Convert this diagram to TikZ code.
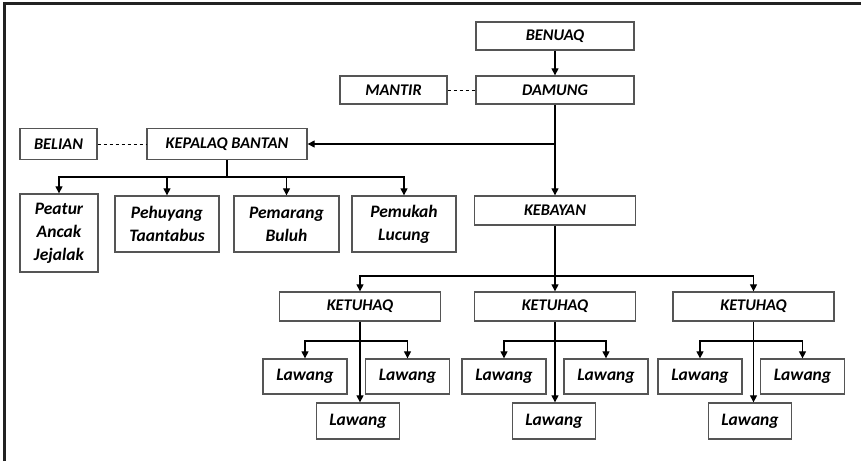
\documentclass[tikz,border=0pt]{standalone}
\usepackage{fontspec}
\setmainfont{Carlito}
\usetikzlibrary{arrows.meta}
\definecolor{boxgray}{HTML}{555555}
\definecolor{framegray}{HTML}{222222}
\begin{document}
\begin{tikzpicture}[x=1pt,y=-1pt,
  box/.style={draw=boxgray, line width=1.3pt, fill=white, inner sep=0pt,
    align=center, font=\bfseries\itshape\fontsize{16.3}{19}\selectfont},
  role/.style={box, font=\bfseries\itshape\fontsize{17.5}{23}\selectfont},
  arr/.style={-{Triangle[width=7pt,length=7pt]}, line width=1.1pt},
  link/.style={dashed, line width=1pt}]
\useasboundingbox (0,0) rectangle (861,461);
\draw[line width=3pt, draw=framegray] (4.5,461) -- (4.5,3) -- (861,3);

\node[box, minimum width=158, minimum height=28] (benuaq) at (555,36) {BENUAQ};
\node[box, minimum width=158, minimum height=28] (damung) at (555,90) {DAMUNG};
\node[box, minimum width=107, minimum height=28] (mantir) at (393.5,90) {MANTIR};

\node[box, minimum width=160, minimum height=31] (kepalaq) at (227,144) {KEPALAQ BANTAN};
\node[box, minimum width=77, minimum height=31] (belian) at (58.5,144) {BELIAN};

\node[role, minimum width=78, minimum height=78] (peatur) at (59,233) {Peatur\\Ancak\\Jejalak};
\node[role, minimum width=104, minimum height=56] (pehuyang) at (167,224) {Pehuyang\\Taantabus};
\node[role, minimum width=105, minimum height=56] (pemarang) at (286.5,224) {Pemarang\\Buluh};
\node[role, minimum width=104, minimum height=56] (pemukah) at (404,224) {Pemukah\\Lucung};

\node[box, minimum width=161, minimum height=29] (kebayan) at (555,210.5) {KEBAYAN};

\node[box, minimum width=161, minimum height=29] (ket1) at (360,306.5) {KETUHAQ};
\node[box, minimum width=161, minimum height=29] (ket2) at (555,306.5) {KETUHAQ};
\node[box, minimum width=161, minimum height=29] (ket3) at (753.5,306.5) {KETUHAQ};

\node[role, minimum width=84, minimum height=35] (l1) at (305,376.5) {Lawang};
\node[role, minimum width=84, minimum height=35] (r1) at (407.5,376.5) {Lawang};
\node[role, minimum width=83, minimum height=36] (low1) at (358,421) {Lawang};
\node[role, minimum width=84, minimum height=35] (l2) at (504,376.5) {Lawang};
\node[role, minimum width=84, minimum height=35] (r2) at (606,376.5) {Lawang};
\node[role, minimum width=83, minimum height=36] (low2) at (554,421) {Lawang};
\node[role, minimum width=84, minimum height=35] (l3) at (700,376.5) {Lawang};
\node[role, minimum width=84, minimum height=35] (r3) at (802.5,376.5) {Lawang};
\node[role, minimum width=83, minimum height=36] (low3) at (750,421) {Lawang};

% top of the chart
\draw[arr] (benuaq) -- (damung);
\draw[link] (mantir) -- (damung);
\draw[link] (belian) -- (kepalaq);
\draw[arr] (damung) -- (kebayan);
\coordinate (j1) at (555,144);
\draw[arr] (j1) -- (kepalaq.east);

% under kepalaq bantan
\coordinate (kb) at (227,177);
\draw[line width=1.1pt] (kepalaq) -- (kb);
\draw[arr] (kb) -| (peatur.north);
\draw[arr] (kb) -| (pehuyang.north);
\draw[arr] (kb) -| (pemarang.north);
\draw[arr] (kb) -| (pemukah.north);

% under kebayan
\coordinate (kt) at (555,276);
\draw[line width=1.1pt] (kebayan) -- (kt);
\draw[arr] (kt) -| (ket1.north);
\draw[arr] (kt) -- (ket2.north);
\draw[arr] (kt) -| (ket3.north);

% lawang groups
\draw[arr] (ket1.south) -- (ket1.south |- low1.north);
\coordinate (h1) at (360,341);
\draw[arr] (h1) -| (l1.north);
\draw[arr] (h1) -| (r1.north);

\draw[arr] (ket2.south) -- (ket2.south |- low2.north);
\coordinate (h2) at (555,341);
\draw[arr] (h2) -| (l2.north);
\draw[arr] (h2) -| (r2.north);

\draw[arr] (ket3.south) -- (ket3.south |- low3.north);
\coordinate (h3) at (753.5,341);
\draw[arr] (h3) -| (l3.north);
\draw[arr] (h3) -| (r3.north);
\end{tikzpicture}
\end{document}
